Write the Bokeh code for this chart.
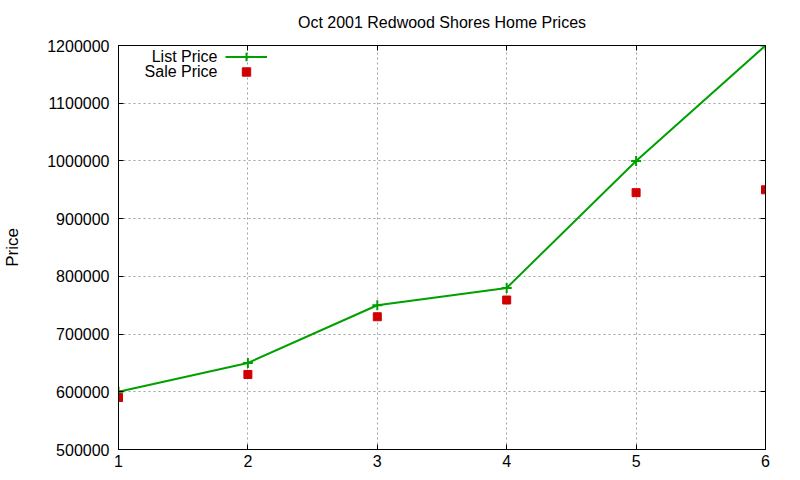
from bokeh.plotting import figure
from bokeh.models import (LinearAxis, FixedTicker, BasicTickFormatter, Range1d,
                          Legend, LegendItem, Label)
from bokeh.embed import file_html
from bokeh.resources import INLINE

# data
house = [1, 2, 3, 4, 5, 6]
list_price = [600000, 650000, 750000, 780000, 1000000, 1200000]
sale_price = [590000, 630000, 730000, 759000, 945000, 950000]
x_ticks = [1, 2, 3, 4, 5, 6]
y_ticks = [500000, 600000, 700000, 800000, 900000, 1000000, 1100000, 1200000]

FONT = "Liberation Sans"
GREEN = "#00a000"
RED = "#d00000"

p = figure(width=800, height=480, output_backend="svg", toolbar_location=None,
           x_range=Range1d(1, 6), y_range=Range1d(500000, 1200000),
           title="Oct 2001 Redwood Shores Home Prices",
           min_border_left=118, min_border_right=35, min_border_top=45, min_border_bottom=31)
p.title.align = "center"
p.title.vertical_align = "top"
p.title.text_font = FONT
p.title.text_font_size = "16px"
p.title.text_font_style = "normal"
p.title.text_color = "#000000"
p.title.standoff = 26
p.outline_line_color = "black"
p.outline_line_width = 1
p.outline_line_alpha = 1

for r in p.grid:
    r.grid_line_color = "#a0a0a0"
    r.grid_line_dash = "2 3"
    r.grid_line_width = 1
p.xgrid.ticker = FixedTicker(ticks=x_ticks)
p.ygrid.ticker = FixedTicker(ticks=y_ticks)

xa = p.xaxis[0]
xa.ticker = FixedTicker(ticks=x_ticks)
ya = p.yaxis[0]
ya.ticker = FixedTicker(ticks=y_ticks)
ya.formatter = BasicTickFormatter(use_scientific=False)
ya.axis_label = "Price"
ya.axis_label_text_font = FONT
ya.axis_label_text_font_size = "17px"
ya.axis_label_text_font_style = "normal"
ya.axis_label_text_color = "#000000"
ya.axis_label_standoff = 22

for ax in (xa, ya):
    ax.major_tick_in = 5
    ax.major_tick_out = 0
    ax.minor_tick_line_color = None
    ax.major_label_text_font = FONT
    ax.major_label_text_font_size = "16px"
    ax.major_label_text_color = "#000000"
    ax.axis_line_color = "black"
    ax.major_tick_line_color = "black"
xa.major_label_standoff = 5
ya.major_label_standoff = 9

# mirrored tick marks on the top and right borders
top = LinearAxis(ticker=FixedTicker(ticks=x_ticks), major_label_text_font_size="0px",
                 major_tick_in=5, major_tick_out=0, minor_tick_line_color=None,
                 major_label_standoff=0)
right = LinearAxis(ticker=FixedTicker(ticks=y_ticks), major_label_text_font_size="0px",
                   major_tick_in=5, major_tick_out=0, minor_tick_line_color=None,
                   major_label_standoff=0)
p.add_layout(top, "above")
p.add_layout(right, "right")

ln = p.line(house, list_price, line_color=GREEN, line_width=2)
cr = p.scatter(house, list_price, marker="cross", size=10, line_color=GREEN, line_width=2)
sq = p.scatter(house, sale_price, marker="square", size=8, fill_color=RED, line_color=RED)

# gnuplot style key: text right aligned, sample on the right (one legend per row)
for item, vy in ((LegendItem(label="List Price", renderers=[ln, cr]), 382),
                 (LegendItem(label="Sale Price", renderers=[sq]), 367)):
    p.add_layout(Legend(items=[item], location=(107, vy), glyph_width=42, glyph_height=21,
                        label_height=21, label_width=0, label_standoff=0,
                        label_text_alpha=0, label_text_font_size="1px",
                        spacing=0, padding=0, margin=0,
                        border_line_color=None, background_fill_color=None), "center")
for txt, y in (("List Price", 393), ("Sale Price", 378)):
    p.add_layout(Label(x=99, y=y, x_units="screen", y_units="screen", text=txt,
                       text_align="right", text_baseline="middle", text_font=FONT,
                       text_font_size="16px", text_color="#000000"))

open("out.html", "w").write(file_html(p, INLINE))
